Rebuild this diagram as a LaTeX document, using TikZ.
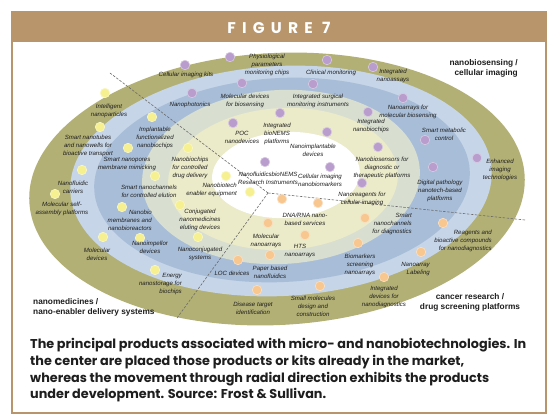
\documentclass[tikz,border=0pt]{standalone}
\usepackage{fontspec}
\setmainfont{Liberation Sans}
\newfontfamily\capfont{Poppins}
\newfontfamily\headfont[LetterSpace=40]{Poppins}
\usepackage{xcolor}
\usepackage{tikz}

\definecolor{framecol}{HTML}{B8956A}
\definecolor{ringolive}{HTML}{B2B075}
\definecolor{ringlblue}{HTML}{C6D5E8}
\definecolor{ringmblue}{HTML}{A8BDD7}
\definecolor{ringpale}{HTML}{D8DFD1}
\definecolor{ringcream}{HTML}{EBEAC9}
\definecolor{dotpurple}{HTML}{B99DCC}
\definecolor{dotyellow}{HTML}{F6F091}
\definecolor{dotorange}{HTML}{F8C790}
\definecolor{labeltext}{HTML}{1E1E1E}

\begin{document}
\begin{tikzpicture}[x=1pt,y=-1pt,
    pdot/.style={circle,inner sep=0pt,minimum size=9.5pt,fill=dotpurple,draw=white!45!dotpurple,line width=0.6pt},
    ydot/.style={pdot,fill=dotyellow,draw=white!45!dotyellow},
    odot/.style={pdot,fill=dotorange,draw=white!45!dotorange},
    lbl/.style={font=\fontsize{6.1}{7.9}\selectfont\itshape,align=center,inner sep=0pt,text=labeltext},
    zone/.style={font=\fontsize{8.3}{10}\selectfont\bfseries,inner sep=0pt,text=labeltext},
    radial/.style={gray!85!black,dash pattern=on 2.5pt off 1.5pt,line width=0.6pt}]
    \useasboundingbox (0,0) rectangle (550,420);
    \fill[white] (0,0) rectangle (550,420);

    \fill[framecol] (12,12) rectangle (546,42);
    \draw[framecol,line width=2pt] (12,12) rectangle (546,413);
    \node[font=\headfont\bfseries\fontsize{15.5}{15.5}\selectfont,text=white] (fig) at (279,28) {FIGURE 7};

    \fill[ringolive,rotate around={3:(277,189)}] (277,189) ellipse [x radius=248,y radius=136];
    \fill[ringlblue,rotate around={3:(281,181)}] (281,181) ellipse [x radius=211,y radius=115];
    \fill[ringmblue,rotate around={3:(282,180)}] (282,180) ellipse [x radius=188,y radius=102];
    \fill[ringpale,rotate around={3:(281,177)}] (281,177) ellipse [x radius=139,y radius=87];
    \fill[ringcream,rotate around={3:(283,179)}] (283,179) ellipse [x radius=115,y radius=71];
    \fill[white,rotate around={3:(286,175)}] (286,175) ellipse [x radius=74,y radius=43];

    \coordinate (hub) at (268,193);
    \coordinate (endA) at (110,73);
    \coordinate (endB) at (525,220);
    \coordinate (endC) at (177,318);
    \draw[radial] (hub) -- (endA);
    \draw[radial] (hub) -- (endB);
    \draw[radial] (hub) -- (endC);

    \node[pdot] (p1) at (230,57) {};
    \node[pdot] (p2) at (327,60) {};
    \node[pdot] (p3) at (373,67) {};
    \node[pdot] (p4) at (185,65) {};
    \node[pdot] (p5) at (242,83) {};
    \node[pdot] (p6) at (313,84) {};
    \node[pdot] (p7) at (192,93) {};
    \node[pdot] (p8) at (280,113) {};
    \node[pdot] (p9) at (233,123) {};
    \node[pdot] (p10) at (327,132) {};
    \node[pdot] (p11) at (265,162) {};
    \node[pdot] (p12) at (330,167) {};
    \node[pdot] (p13) at (403,98) {};
    \node[pdot] (p14) at (368,112) {};
    \node[pdot] (p15) at (425,140) {};
    \node[pdot] (p16) at (378,147) {};
    \node[pdot] (p17) at (433,167) {};
    \node[pdot] (p18) at (477,158) {};
    \node[pdot] (p19) at (362,183) {};

    \node[ydot] (y1) at (105,93) {};
    \node[ydot] (y2) at (100,127) {};
    \node[ydot] (y3) at (152,117) {};
    \node[ydot] (y4) at (128,148) {};
    \node[ydot] (y5) at (188,148) {};
    \node[ydot] (y6) at (82,170) {};
    \node[ydot] (y7) at (155,176) {};
    \node[ydot] (y8) at (55,194) {};
    \node[ydot] (y9) at (122,207) {};
    \node[ydot] (y10) at (250,192) {};
    \node[ydot] (y11) at (226,176) {};
    \node[ydot] (y12) at (180,205) {};
    \node[ydot] (y13) at (198,237) {};
    \node[ydot] (y14) at (140,238) {};
    \node[ydot] (y15) at (103,237) {};
    \node[ydot] (y16) at (155,270) {};

    \node[odot] (o1) at (282,199) {};
    \node[odot] (o2) at (318,203) {};
    \node[odot] (o3) at (268,223) {};
    \node[odot] (o4) at (305,235) {};
    \node[odot] (o5) at (270,255) {};
    \node[odot] (o6) at (238,260) {};
    \node[odot] (o7) at (365,218) {};
    \node[odot] (o8) at (358,243) {};
    \node[odot] (o9) at (443,223) {};
    \node[odot] (o10) at (421,252) {};
    \node[odot] (o11) at (384,277) {};
    \node[odot] (o12) at (257,290) {};
    \node[odot] (o13) at (320,286) {};

    \node[lbl] (physio) at (267,65) {Physiological\\parameters\\monitoring chips};
    \node[lbl] (clinic) at (331,73) {Clinical monitoring};
    \node[lbl] (nanoassay) at (393,76) {Integrated\\nanoassays};
    \node[lbl] (cellkits) at (186,75) {Cellular imaging kits};
    \node[lbl] (moldev) at (245,101) {Molecular devices\\for biosensing};
    \node[lbl] (surgical) at (318,101) {Integrated surgical\\monitoring instruments};
    \node[lbl] (photon) at (190,105) {Nanophotonics};
    \node[lbl] (bionems) at (277,134) {Integrated\\bioNEMS\\platforms};
    \node[lbl] (poc) at (242,137) {POC\\nanodevices};
    \node[lbl] (implant) at (313,150) {Nanoimplantable\\devices};
    \node[lbl] (fluidics) at (268,178) {NanofluidicsbioNEMS\\Research Instruments};
    \node[lbl] (biomark) at (320,180) {Cellular imaging\\nanobiomarkers};
    \node[lbl] (arrays) at (408,112) {Nanoarrays for\\molecular biosensing};
    \node[lbl] (intchips) at (371,126) {Integrated\\nanobiochips};
    \node[lbl] (metab) at (444,134) {Smart metabolic\\control};
    \node[lbl] (sensors) at (382,168) {Nanobiosensors for\\diagnostic or\\therapeutic platforms};
    \node[lbl] (pathol) at (440,191) {Digital pathology\\nanotech-based\\platforms};
    \node[lbl] (enhanced) at (500,170) {Enhanced\\imaging\\technologies};
    \node[lbl] (reagcell) at (362,199) {Nanoreagents for\\cellular imaging};

    \node[lbl] (intell) at (109,111) {Intelligent\\nanoparticles};
    \node[lbl] (tubes) at (88,146) {Smart nanotubes\\and nanowells for\\bioactive transport};
    \node[lbl] (implchips) at (155,138) {Implantable\\functionalized\\nanobiochips};
    \node[lbl] (pores) at (127,164) {Smart nanopores\\membrane mimicking};
    \node[lbl] (delivery) at (190,168) {Nanobiochips\\for controlled\\drug delivery};
    \node[lbl] (carriers) at (73,187) {Nanofluidic\\carriers};
    \node[lbl] (elution) at (149,191) {Smart nanochannels\\for controlled elution};
    \node[lbl] (selfass) at (62,209) {Molecular self-\\assembly platforms};
    \node[lbl,align=right,anchor=east] (membr) at (152,220) {Nanobio\\membranes and\\nanobioreactors};
    \node[lbl,align=right,anchor=east] (enabler) at (237,190) {Nanobiotech\\enabler equipment};
    \node[lbl] (conj) at (200,220) {Conjugated\\nanomedicines\\eluting devices};
    \node[lbl] (nanoconj) at (200,254) {Nanoconjugated\\systems};
    \node[lbl] (impellor) at (150,247) {Nanoimpellor\\devices};
    \node[lbl] (moldevy) at (97,254) {Molecular\\devices};
    \node[lbl,align=right,anchor=east] (energy) at (182,284) {Energy\\nanostorage for\\biochips};

    \node[lbl] (dna) at (305,219) {DNA/RNA nano-\\based services};
    \node[lbl] (molarr) at (266,241) {Molecular\\nanoarrays};
    \node[lbl] (hts) at (300,251) {HTS\\nanoarrays};
    \node[lbl] (paper) at (270,272) {Paper based\\nanofluidics};
    \node[lbl] (loc) at (232,273) {LOC devices};
    \node[lbl,align=right,anchor=east] (chandiag) at (412,224) {Smart\\nanochannels\\for diagnostics};
    \node[lbl] (screen) at (360,265) {Biomarkers\\screening\\nanoarrays};
    \node[lbl,align=right,anchor=east] (reagbio) at (492,241) {Reagents and\\bioactive compounds\\for nanodiagnostics};
    \node[lbl,align=right,anchor=east] (labeling) at (430,269) {Nanoarray\\Labeling};
    \node[lbl] (intdev) at (384,297) {Integrated\\devices for\\nanodiagnostics};
    \node[lbl] (target) at (253,308) {Disease target\\identification};
    \node[lbl] (smallmol) at (313,306) {Small molecules\\design and\\construction};

    \node[zone,align=right,anchor=east] (sensing) at (518,68) {nanobiosensing /\\cellular imaging};
    \node[zone,align=left,anchor=west] (medicine) at (33,307) {nanomedicines /\\nano-enabler delivery systems};
    \node[zone,align=center] (cancer) at (470,302) {cancer research /\\drug screening platforms};

    \node[font=\capfont\bfseries\fontsize{12.8}{16.6}\selectfont,align=left,anchor=north west,inner sep=0pt,text=labeltext] (caption) at (30,338.5)
      {The principal products associated with micro- and nanobiotechnologies. In\\
       the center are placed those products or kits already in the market,\\
       whereas the movement through radial direction exhibits the products\\
       under development. Source: Frost \& Sullivan.};
\end{tikzpicture}
\end{document}
